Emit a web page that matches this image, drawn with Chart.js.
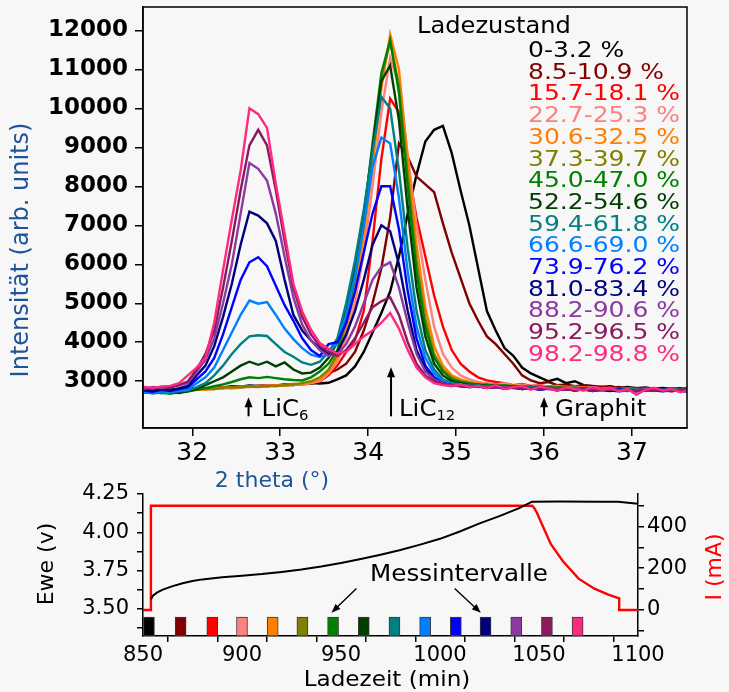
<!DOCTYPE html>
<html>
<head>
<meta charset="utf-8">
<script src="https://cdn.jsdelivr.net/npm/chart.js@4.4.0/dist/chart.umd.min.js"></script>
<style>
  html, body { margin: 0; padding: 0; background: #f7f7f7; }
  #wrap { position: relative; width: 729px; height: 692px; }
  #xrd { position: absolute; left: 0; top: 0; }
  #cell { position: absolute; left: 0; top: 480px; }
</style>
</head>
<body>
<div id="wrap">
  <canvas id="xrd" width="729" height="500"></canvas>
  <canvas id="cell" width="729" height="212"></canvas>
</div>
<script>
// 2 theta grid of the diffractograms (deg)
var twoTheta = [31.45, 31.55, 31.65, 31.75, 31.85, 31.95, 32.05, 32.15, 32.25, 32.35, 32.45, 32.55, 32.65,
  32.75, 32.85, 32.95, 33.05, 33.15, 33.25, 33.35, 33.45, 33.55, 33.65, 33.75, 33.85, 33.95, 34.05,
  34.15, 34.25, 34.35, 34.45, 34.55, 34.65, 34.75, 34.85, 34.95, 35.05, 35.15, 35.25, 35.35, 35.45,
  35.55, 35.65, 35.75, 35.85, 35.95, 36.05, 36.15, 36.25, 36.35, 36.45, 36.55, 36.65, 36.75, 36.85,
  36.95, 37.05, 37.15, 37.25, 37.35, 37.45, 37.55, 37.65];

// state of charge labels and colours
var stateLabels = ['0-3.2 %', '8.5-10.9 %', '15.7-18.1 %', '22.7-25.3 %', '30.6-32.5 %', '37.3-39.7 %',
  '45.0-47.0 %', '52.2-54.6 %', '59.4-61.8 %', '66.6-69.0 %', '73.9-76.2 %', '81.0-83.4 %',
  '88.2-90.6 %', '95.2-96.5 %', '98.2-98.8 %'];
var stateColors = ['#000000', '#7f0000', '#ff0000', '#ff8080', '#ff8000', '#808000', '#008000', '#003f00',
  '#008080', '#0080ff', '#0000ff', '#00007f', '#8a3aa0', '#8a1a60', '#ff2a80'];

// intensities (arb. units), one list per state of charge
var soc00 = [2760, 2720, 2750, 2790, 2770, 2800, 2820, 2810, 2850, 2840, 2870, 2860, 2890,
  2880, 2900, 2890, 2920, 2900, 2930, 2950, 2940, 2960, 3050,
  3150, 3380, 3750, 4250, 4750, 5300, 6200, 7300, 8300, 9150, 9450, 9550,
  8850, 7900, 7000, 5900, 4800, 4300, 3850, 3650, 3350, 3200, 3100, 3000,
  3060, 2950, 3000, 2900, 2880, 2850, 2870, 2830, 2850, 2820, 2840, 2810, 2830, 2800, 2820, 2790];
var soc09 = [2790, 2750, 2770, 2800, 2760, 2810, 2800, 2820, 2830, 2850, 2840, 2870, 2860,
  2880, 2870, 2900, 2890, 2910, 2920, 2940, 2990, 3200, 3300,
  3450, 3750, 4300, 5000, 5900, 7200, 9100, 8750, 8250, 8050, 7850, 7050,
  6300, 5650, 5000, 4550, 4150, 3950, 3700, 3450, 3150, 3020, 2950, 2980,
  2900, 2920, 2870, 2890, 2850, 2860, 2830, 2850, 2810, 2830, 2800, 2820, 2790, 2810, 2780, 2800];
var soc16 = [2740, 2780, 2760, 2730, 2770, 2800, 2780, 2810, 2830, 2820, 2850, 2870, 2860,
  2880, 2900, 2880, 2910, 2930, 2920, 2960, 3000, 3150, 3400,
  3750, 4050, 4800, 6600, 8700, 10250, 9900, 8500, 7200, 6200, 5200, 4400,
  3800, 3450, 3250, 3100, 3020, 2980, 2950, 2900, 2930, 2880, 2900, 2860,
  2890, 2850, 2870, 2830, 2850, 2820, 2840, 2800, 2830, 2810, 2780, 2810, 2790, 2760, 2800, 2780];
var soc24 = [2720, 2760, 2740, 2780, 2760, 2790, 2800, 2790, 2820, 2840, 2830, 2860, 2850,
  2870, 2890, 2880, 2900, 2920, 2910, 2950, 3000, 3200, 3500,
  4100, 5000, 6300, 8000, 9900, 11300, 10600, 8800, 7000, 5600, 4400, 3700,
  3350, 3150, 3050, 2980, 2950, 2920, 2950, 2890, 2910, 2870, 2890, 2850,
  2880, 2840, 2860, 2820, 2850, 2810, 2830, 2790, 2820, 2780, 2810, 2790, 2770, 2800, 2780, 2790];
var soc31 = [2730, 2700, 2740, 2760, 2730, 2770, 2790, 2780, 2800, 2830, 2810, 2840, 2860,
  2850, 2870, 2890, 2880, 2900, 2930, 2970, 3050, 3250, 3600,
  4300, 5300, 6700, 8500, 10500, 11900, 11000, 8700, 6500, 4900, 3900, 3400,
  3150, 3050, 2980, 2950, 2900, 2930, 2880, 2900, 2860, 2880, 2840, 2870,
  2830, 2850, 2800, 2840, 2810, 2780, 2820, 2790, 2760, 2800, 2770, 2750, 2790, 2760, 2740, 2780];
var soc38 = [2710, 2740, 2720, 2750, 2780, 2760, 2790, 2810, 2800, 2830, 2850, 2840, 2870,
  2860, 2880, 2870, 2900, 2920, 2950, 3000, 3100, 3300, 3700,
  4500, 5600, 7000, 8900, 10800, 11700, 10600, 8300, 6100, 4600, 3700, 3300,
  3100, 3000, 2950, 2920, 2890, 2910, 2870, 2890, 2850, 2870, 2830, 2850,
  2810, 2840, 2800, 2820, 2790, 2810, 2780, 2800, 2770, 2790, 2760, 2780, 2750, 2770, 2790, 2760];
var soc46 = [2700, 2730, 2710, 2680, 2720, 2740, 2780, 2820, 2870, 2920, 2980, 3050, 3100,
  3080, 3110, 3080, 3050, 3030, 3020, 3100, 3250, 3450, 3800,
  4600, 5700, 7200, 9100, 10900, 11750, 10400, 8000, 5800, 4400, 3600, 3250,
  3050, 2980, 2950, 2900, 2920, 2880, 2900, 2860, 2880, 2840, 2870, 2830,
  2850, 2820, 2840, 2800, 2830, 2790, 2820, 2780, 2810, 2790, 2770, 2800, 2780, 2820, 2790, 2850];
var soc53 = [2720, 2690, 2710, 2730, 2700, 2740, 2800, 2900, 3000, 3100, 3250, 3400, 3500,
  3420, 3500, 3380, 3480, 3300, 3200, 3220, 3350, 3600, 4000,
  4800, 5900, 7300, 9000, 10700, 11100, 9700, 7400, 5400, 4150, 3450, 3150,
  3000, 2950, 2900, 2920, 2870, 2890, 2850, 2870, 2830, 2860, 2820, 2840,
  2800, 2830, 2790, 2810, 2780, 2800, 2770, 2790, 2760, 2780, 2800, 2770, 2790, 2760, 2780, 2800];
var soc61 = [2700, 2720, 2690, 2710, 2740, 2760, 2850, 2950, 3150, 3400, 3700, 3950, 4150,
  4180, 4160, 3950, 3750, 3630, 3480, 3420, 3500, 3750, 4100,
  5000, 6100, 7400, 8900, 10300, 10000, 8400, 6400, 4800, 3800, 3300, 3050,
  2950, 2920, 2880, 2900, 2860, 2880, 2840, 2860, 2820, 2850, 2810, 2830,
  2800, 2820, 2790, 2810, 2780, 2800, 2770, 2790, 2810, 2780, 2760, 2790, 2770, 2800, 2780, 2760];
var soc68 = [2730, 2700, 2750, 2720, 2760, 2800, 2950, 3100, 3350, 3800, 4250, 4700, 5070,
  4990, 5030, 4700, 4350, 4080, 3850, 3680, 3620, 3700, 4000,
  4700, 5700, 7000, 8500, 9250, 9100, 7700, 5800, 4400, 3600, 3200, 3000,
  2920, 2900, 2860, 2880, 2840, 2860, 2820, 2850, 2810, 2830, 2790, 2820,
  2780, 2800, 2770, 2790, 2810, 2780, 2760, 2790, 2770, 2750, 2780, 2760, 2790, 2770, 2750, 2780];
var soc75 = [2760, 2730, 2780, 2750, 2800, 2850, 3050, 3250, 3600, 4200, 4900, 5600, 6050,
  6180, 5950, 5450, 4950, 4550, 4100, 3800, 3650, 3950, 4000,
  4500, 5300, 6300, 7300, 8000, 8000, 6900, 5300, 4100, 3400, 3100, 2950,
  2900, 2870, 2850, 2870, 2830, 2850, 2810, 2840, 2800, 2820, 2780, 2810,
  2770, 2800, 2760, 2790, 2750, 2780, 2760, 2740, 2770, 2750, 2790, 2760, 2740, 2770, 2750, 2730];
var soc82 = [2780, 2750, 2800, 2770, 2820, 2880, 3150, 3400, 3900, 4650, 5500, 6500, 7350,
  7250, 7050, 6600, 5600, 4700, 4300, 4050, 3850, 3700, 3750,
  4200, 4800, 5600, 6500, 7000, 6850, 6000, 4800, 3800, 3300, 3050, 2950,
  2900, 2880, 2850, 2870, 2830, 2850, 2810, 2840, 2800, 2830, 2790, 2810,
  2780, 2800, 2770, 2790, 2760, 2780, 2750, 2790, 2770, 2740, 2780, 2760, 2790, 2750, 2770, 2760];
var soc89 = [2800, 2850, 2820, 2860, 2900, 2950, 3250, 3550, 4100, 5000, 6000, 7300, 8600,
  8450, 8150, 7300, 6200, 5150, 4450, 4050, 3800, 3650, 3700,
  3950, 4400, 5000, 5600, 5930, 6050, 5400, 4500, 3700, 3250, 3050, 2950,
  2900, 2870, 2890, 2850, 2870, 2830, 2860, 2820, 2840, 2800, 2830, 2790,
  2820, 2780, 2810, 2770, 2800, 2760, 2790, 2770, 2750, 2780, 2800, 2760, 2780, 2750, 2790, 2770];
var soc96 = [2830, 2810, 2860, 2840, 2900, 3000, 3300, 3700, 4300, 5400, 6600, 7900, 9050,
  9450, 9050, 7900, 6600, 5400, 4650, 4200, 3900, 3750, 3650,
  3800, 4100, 4500, 4900, 5050, 5150, 4700, 4000, 3450, 3150, 3000, 2930,
  2880, 2900, 2850, 2870, 2830, 2860, 2820, 2840, 2800, 2830, 2790, 2810,
  2780, 2800, 2770, 2790, 2750, 2780, 2800, 2760, 2780, 2750, 2770, 2790, 2760, 2740, 2780, 2760];
var soc98 = [2850, 2830, 2860, 2880, 2950, 3150, 3350, 3600, 4500, 5850, 7150, 8400, 10000,
  9850, 9500, 8070, 6790, 5500, 4790, 4320, 3980, 3830, 3710,
  3750, 3950, 4150, 4300, 4500, 4750, 4350, 3800, 3350, 3100, 2950, 2900,
  2870, 2920, 2850, 2880, 2820, 2900, 2800, 2850, 2880, 2780, 2860, 2820,
  2750, 2840, 2800, 2760, 2850, 2790, 2820, 2740, 2800, 2650, 2780, 2830, 2760, 2800, 2720, 2780];
var intensities = [soc00, soc09, soc16, soc24, soc31, soc38, soc46, soc53, soc61, soc68, soc75, soc82, soc89, soc96, soc98];

var thetaTicks = [32, 33, 34, 35, 36, 37];
var intensityTicks = [3000, 4000, 5000, 6000, 7000, 8000, 9000, 10000, 11000, 12000];

// reflexes marked below the curves
var peakNames = ['LiC', 'LiC', 'Graphit'];
var peakSubs = ['6', '12', ''];
var peakPos = [32.64, 34.26, 36.0];
var peakArrowTop = [2590, 3360, 2590];
var peakArrowBase = 2100;

// charging curve
var voltTime = [854, 855, 857, 860, 865, 870, 875, 880, 890, 900, 910, 920, 930, 940, 950, 960, 970, 980,
  990, 1000, 1010, 1020, 1030, 1040, 1046.5, 1060, 1080, 1090, 1095, 1100];
var voltage = [3.56, 3.585, 3.605, 3.625, 3.648, 3.667, 3.681, 3.692, 3.706, 3.716, 3.727, 3.741, 3.757, 3.776,
  3.799, 3.825, 3.853, 3.884, 3.919, 3.957, 4.005, 4.058, 4.105, 4.158, 4.200, 4.201, 4.200, 4.199, 4.193, 4.187];
var currentTime = [850, 854, 854, 1046.5, 1047.5, 1049, 1052, 1056, 1062, 1070, 1078, 1085, 1090.5, 1090.5, 1100];
var current = [0, 0, 500, 500, 490, 465, 400, 315, 235, 150, 102, 73, 56, 0, 0];

// measuring intervals (min)
var intervalStart = [850, 866, 882, 897, 913, 928, 943, 959, 974, 990, 1005, 1020, 1036, 1051, 1067];
var intervalEnd = [856, 872, 888, 903, 918, 933, 949, 964, 980, 995, 1011, 1026, 1041, 1057, 1072];
var markerTop = 3.445;

var timeTicks = [850, 875, 900, 925, 950, 975, 1000, 1025, 1050, 1075, 1100];
var voltTicks = [3.375, 3.5, 3.625, 3.75, 3.875, 4.0, 4.125, 4.25];
var currentTicks = [-100, 0, 100, 200, 300, 400, 500];
var eweMin = 3.322, eweMax = 4.25;

var titleBlue = '#1f5597';
Chart.defaults.color = '#000';
Chart.defaults.font.family = 'DejaVu Sans';

function stretchText(ctx, text, x, y, sx) {
  ctx.save();
  ctx.translate(x, y);
  ctx.scale(sx, 1);
  ctx.fillText(text, 0, 0);
  ctx.restore();
}

function arrow(ctx, x1, y1, x2, y2, head, half) {
  var a = Math.atan2(y2 - y1, x2 - x1);
  var c = Math.cos(a), s = Math.sin(a);
  ctx.beginPath();
  ctx.moveTo(x1, y1);
  ctx.lineTo(x2 - c * head * 0.7, y2 - s * head * 0.7);
  ctx.stroke();
  ctx.beginPath();
  ctx.moveTo(x2, y2);
  ctx.lineTo(x2 - head * c + half * s, y2 - head * s - half * c);
  ctx.lineTo(x2 - head * c - half * s, y2 - head * s + half * c);
  ctx.closePath();
  ctx.fill();
}

var xrdDecor = {
  id: 'xrdDecor',
  afterDraw: function(chart) {
    var ctx = chart.ctx, area = chart.chartArea;
    var xs = chart.scales.x, ys = chart.scales.y;
    ctx.save();
    // frame
    ctx.strokeStyle = '#000';
    ctx.lineWidth = 1.5;
    ctx.strokeRect(area.left, area.top, area.right - area.left, area.bottom - area.top);
    // legend
    ctx.textAlign = 'left';
    ctx.textBaseline = 'alphabetic';
    ctx.fillStyle = '#000';
    ctx.font = '23px "DejaVu Sans"';
    stretchText(ctx, 'Ladezustand', 417, 33, 1.05);
    ctx.font = '21px "DejaVu Sans"';
    stateLabels.forEach(function(lab, i) {
      ctx.fillStyle = stateColors[i];
      stretchText(ctx, lab, 528, 57 + i * 21.7, 1.19);
    });
    // reflex markers
    ctx.fillStyle = '#000';
    ctx.strokeStyle = '#000';
    ctx.lineWidth = 2;
    var gaps = [13, 8, 11];
    var yBase = ys.getPixelForValue(peakArrowBase);
    peakPos.forEach(function(p, i) {
      var px = xs.getPixelForValue(p);
      arrow(ctx, px, yBase, px, ys.getPixelForValue(peakArrowTop[i]), 10, 4);
      ctx.font = '23px "DejaVu Sans"';
      var tx = px + gaps[i];
      stretchText(ctx, peakNames[i], tx, yBase, 1.06);
      if (peakSubs[i]) {
        var w = ctx.measureText(peakNames[i]).width * 1.06;
        ctx.font = '14px "DejaVu Sans"';
        stretchText(ctx, peakSubs[i], tx + w, yBase + 4, 1.06);
      }
    });
    // axis titles
    ctx.fillStyle = titleBlue;
    ctx.font = '22px "DejaVu Sans"';
    ctx.textAlign = 'center';
    stretchText(ctx, '2 theta (°)', 272, 487, 1.0);
    ctx.save();
    ctx.translate(22, 250);
    ctx.rotate(-Math.PI / 2);
    ctx.font = '24px "DejaVu Sans"';
    ctx.textBaseline = 'middle';
    ctx.fillText('Intensität (arb. units)', 0, 0);
    ctx.restore();
    ctx.restore();
  }
};

var xrdSets = intensities.map(function(series, i) {
  return {
    label: stateLabels[i],
    data: twoTheta.map(function(t, k) { return { x: t, y: series[k] }; }),
    borderColor: stateColors[i],
    borderWidth: 2.4,
    pointRadius: 0,
    tension: 0,
    order: intensities.length - i
  };
});

new Chart(document.getElementById('xrd'), {
  type: 'line',
  data: { datasets: xrdSets },
  options: {
    responsive: false,
    animation: false,
    devicePixelRatio: 1,
    layout: { padding: { top: 7, right: 42, left: 0, bottom: 0 } },
    plugins: { legend: { display: false }, tooltip: { enabled: false } },
    scales: {
      x: {
        type: 'linear', min: 31.44, max: 37.625,
        afterBuildTicks: function(s) { s.ticks = thetaTicks.map(function(v) { return { value: v }; }); },
        afterFit: function(s) { s.height = 72; s.paddingLeft = 0; s.paddingRight = 0; },
        grid: { drawOnChartArea: false, tickLength: 8, color: '#000', lineWidth: 1.5 },
        border: { display: true, color: '#000', width: 1.5 },
        ticks: { color: '#000', font: { size: 25 }, padding: 2, maxRotation: 0, autoSkip: false,
                 callback: function(v) { return String(v); } }
      },
      y: {
        type: 'linear', min: 1800, max: 12600,
        afterBuildTicks: function(s) { s.ticks = intensityTicks.map(function(v) { return { value: v }; }); },
        afterFit: function(s) { s.width = 143; s.paddingTop = 0; s.paddingBottom = 0; },
        grid: { drawOnChartArea: false, tickLength: 8, color: '#000', lineWidth: 1.5 },
        border: { display: true, color: '#000', width: 1.5 },
        ticks: { color: '#000', font: { size: 23, weight: 'bold' }, padding: 7, autoSkip: false,
                 callback: function(v) { return String(v); } }
      }
    }
  },
  plugins: [xrdDecor]
});

var cellDecor = {
  id: 'cellDecor',
  afterDraw: function(chart) {
    var ctx = chart.ctx;
    var xs = chart.scales.x, ys = chart.scales.y;
    ctx.save();
    ctx.fillStyle = '#000';
    ctx.font = '22px "DejaVu Sans"';
    ctx.textAlign = 'center';
    ctx.textBaseline = 'alphabetic';
    stretchText(ctx, 'Ladezeit (min)', 387, 206, 1.05);
    ctx.save();
    ctx.translate(47, 84);
    ctx.rotate(-Math.PI / 2);
    ctx.textBaseline = 'middle';
    ctx.fillText('Ewe (v)', 0, 0);
    ctx.restore();
    ctx.save();
    ctx.translate(715, 87);
    ctx.rotate(-Math.PI / 2);
    ctx.textBaseline = 'middle';
    ctx.fillStyle = '#ff0000';
    ctx.fillText('I (mA)', 0, 0);
    ctx.restore();
    // measuring intervals note
    ctx.font = '23px "DejaVu Sans"';
    stretchText(ctx, 'Messintervalle', xs.getPixelForValue(1009.6), ys.getPixelForValue(3.68), 1.07);
    ctx.strokeStyle = '#000';
    ctx.lineWidth = 1.4;
    arrow(ctx, xs.getPixelForValue(957.8), ys.getPixelForValue(3.632),
          xs.getPixelForValue(945.2), ys.getPixelForValue(3.474), 9, 3.5);
    arrow(ctx, xs.getPixelForValue(1007.4), ys.getPixelForValue(3.632),
          xs.getPixelForValue(1020.6), ys.getPixelForValue(3.474), 9, 3.5);
    ctx.restore();
  }
};

var axisLine = { display: true, color: '#000', width: 1.5 };
var tickGrid = { drawOnChartArea: false, tickLength: 6, color: '#000', lineWidth: 1.5 };

new Chart(document.getElementById('cell'), {
  type: 'line',
  data: {
    datasets: [
      { label: 'Ewe', data: voltTime.map(function(t, i) { return { x: t, y: voltage[i] }; }),
        yAxisID: 'y', borderColor: '#000', borderWidth: 2, pointRadius: 0, tension: 0, order: 1 },
      { label: 'I', data: currentTime.map(function(t, i) { return { x: t, y: current[i] }; }),
        yAxisID: 'y1', borderColor: '#ff0000', borderWidth: 2.4, pointRadius: 0, tension: 0, order: 2 },
      { type: 'bar', label: 'Messintervalle',
        data: intervalStart.map(function(s, i) { return { x: (s + intervalEnd[i]) / 2, y: [eweMin, markerTop] }; }),
        yAxisID: 'y', backgroundColor: stateColors, borderColor: '#3a3a3a', borderWidth: 1,
        borderSkipped: false, barThickness: 11, order: 3 }
    ]
  },
  options: {
    responsive: false,
    animation: false,
    devicePixelRatio: 1,
    layout: { padding: { top: 14, right: 0, left: 0, bottom: 0 } },
    plugins: { legend: { display: false }, tooltip: { enabled: false } },
    scales: {
      x: {
        type: 'linear', min: 850, max: 1100, offset: false,
        afterBuildTicks: function(s) { s.ticks = timeTicks.map(function(v) { return { value: v }; }); },
        afterFit: function(s) { s.height = 56; s.paddingLeft = 0; s.paddingRight = 0; },
        grid: tickGrid, border: axisLine,
        ticks: { color: '#000', font: { size: 21 }, padding: 1, maxRotation: 0, autoSkip: false,
                 callback: function(v) { return v % 50 === 0 ? String(v) : ''; } }
      },
      y: {
        type: 'linear', position: 'left', min: eweMin, max: eweMax,
        afterBuildTicks: function(s) { s.ticks = voltTicks.map(function(v) { return { value: v }; }); },
        afterFit: function(s) { s.width = 143; s.paddingTop = 0; s.paddingBottom = 0; },
        grid: tickGrid, border: axisLine,
        ticks: { color: '#000', font: { size: 21 }, padding: 8, autoSkip: false,
                 callback: function(v) { return Math.abs(v * 4 - Math.round(v * 4)) < 1e-6 ? v.toFixed(2) : ''; } }
      },
      y1: {
        type: 'linear', position: 'right', min: -125, max: 556,
        afterBuildTicks: function(s) { s.ticks = currentTicks.map(function(v) { return { value: v }; }); },
        afterFit: function(s) { s.width = 91; s.paddingTop = 0; s.paddingBottom = 0; },
        grid: tickGrid, border: axisLine,
        ticks: { color: '#000', font: { size: 21 }, padding: 3, autoSkip: false,
                 callback: function(v) { return v % 200 === 0 ? String(v) : ''; } }
      }
    }
  },
  plugins: [cellDecor]
});
</script>
</body>
</html>
